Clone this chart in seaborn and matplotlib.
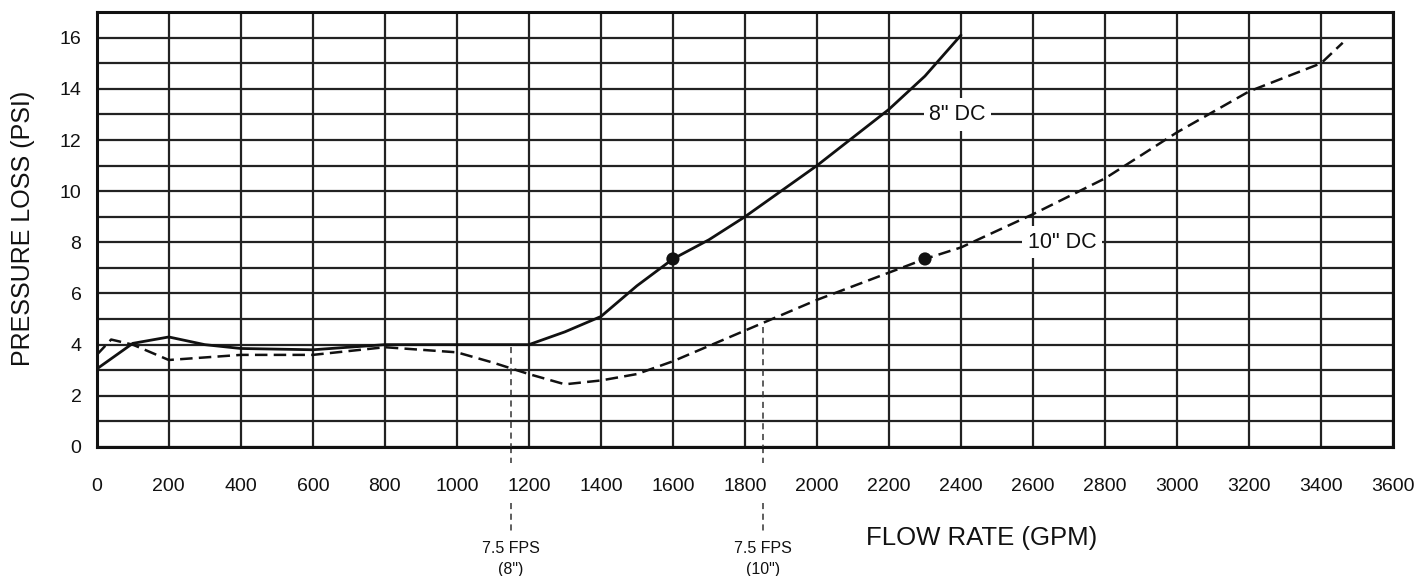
import matplotlib
matplotlib.use('Agg')
import matplotlib.pyplot as plt
import matplotlib.transforms as mtransforms
import seaborn as sns
import pandas as pd

# flow rate (GPM) vs pressure loss (PSI)
flow_8 = [0, 100, 200, 300, 400, 600, 800, 1000, 1200, 1300, 1400, 1500, 1600, 1700, 1800, 2000, 2100, 2200, 2300, 2400]
psi_8 = [3.05, 4.05, 4.3, 4.0, 3.85, 3.8, 4.0, 4.0, 4.0, 4.5, 5.1, 6.3, 7.35, 8.1, 9.0, 11.0, 12.1, 13.2, 14.5, 16.1]

flow_10 = [0, 40, 100, 200, 400, 600, 800, 1000, 1100, 1200, 1300, 1400, 1500, 1600, 1800, 2000, 2300, 2400, 2600, 2800, 3000, 3200, 3400, 3460]
psi_10 = [3.6, 4.2, 4.0, 3.4, 3.6, 3.6, 3.9, 3.7, 3.3, 2.85, 2.45, 2.6, 2.85, 3.35, 4.55, 5.75, 7.35, 7.8, 9.1, 10.5, 12.3, 13.9, 15.0, 15.8]

# highlighted points on each curve
dot_flow = [1600, 2300]
dot_psi = [7.35, 7.35]

# 7.5 ft/s velocity markers
fps_flow = [1150, 1850]
fps_start = [3.9, 4.7]
fps_line1 = ['7.5 FPS', '7.5 FPS']
fps_line2 = ['(8")', '(10")']

curve_labels = ['8" DC', '10" DC']
label_x = [2390, 2680]
label_y = [13.0, 8.0]

x_ticks = list(range(0, 3601, 200))
y_ticks = list(range(0, 17, 2))

sns.set_style('white')
plt.rcParams['font.family'] = ['Liberation Sans', 'DejaVu Sans']

fig = plt.figure(figsize=(14.23, 5.76), dpi=100)
ax = fig.add_axes([0.068, 0.224, 0.911, 0.755])

df8 = pd.DataFrame({'flow': flow_8, 'psi': psi_8})
df10 = pd.DataFrame({'flow': flow_10, 'psi': psi_10})
sns.lineplot(data=df8, x='flow', y='psi', ax=ax, color='#111111', linewidth=2.0, zorder=4)
sns.lineplot(data=df10, x='flow', y='psi', ax=ax, color='#111111', linewidth=1.8,
             linestyle=(0, (5, 2.5)), zorder=4)
sns.scatterplot(x=dot_flow, y=dot_psi, ax=ax, color='#111111', s=90, edgecolor='none', zorder=5)

ax.set_xlim(0, 3600)
ax.set_ylim(0, 17)
ax.set_xticks(x_ticks)
ax.set_xticklabels([str(v) for v in x_ticks])
ax.set_yticks(y_ticks)
ax.set_yticks(list(range(0, 18)), minor=True)
ax.grid(True, which='both', color='#222222', linewidth=1.6)
ax.set_axisbelow(True)
ax.tick_params(axis='both', which='both', length=0, labelsize=14, colors='#111111')
ax.tick_params(axis='x', pad=22)
ax.tick_params(axis='y', pad=11)
for sp in ax.spines.values():
    sp.set_linewidth(2.2)
    sp.set_color('#111111')

ax.set_xlabel('')
ax.set_ylabel('')
fig.text(0.016, 0.604, 'PRESSURE LOSS (PSI)', fontsize=18, rotation=90, color='#111111',
         ha='center', va='center')
fig.text(0.690, 0.066, 'FLOW RATE (GPM)', fontsize=18.5, color='#111111', ha='center', va='center')

for lx, ly, lab in zip(label_x, label_y, curve_labels):
    ax.text(lx, ly, lab, fontsize=15.5, ha='center', va='center', color='#111111', zorder=6,
            bbox=dict(facecolor='white', edgecolor='none', pad=4))

trans = mtransforms.blended_transform_factory(ax.transData, fig.transFigure)
for fx, fy, l1, l2 in zip(fps_flow, fps_start, fps_line1, fps_line2):
    ax.plot([fx, fx], [fy, 0], color='#333333', linewidth=1.1, linestyle=(0, (4, 3)), zorder=3)
    ax.plot([fx, fx], [0.224, 0.196], transform=trans, color='#333333', linewidth=1.1,
            linestyle=(0, (4, 3)), clip_on=False)
    ax.plot([fx, fx], [0.127, 0.075], transform=trans, color='#333333', linewidth=1.1,
            linestyle=(0, (4, 3)), clip_on=False)
    ax.text(fx, 0.047, l1, transform=trans, fontsize=11.5, ha='center', va='center', color='#111111')
    ax.text(fx, 0.011, l2, transform=trans, fontsize=11.5, ha='center', va='center', color='#111111')

fig.savefig('out.png', dpi=100)
